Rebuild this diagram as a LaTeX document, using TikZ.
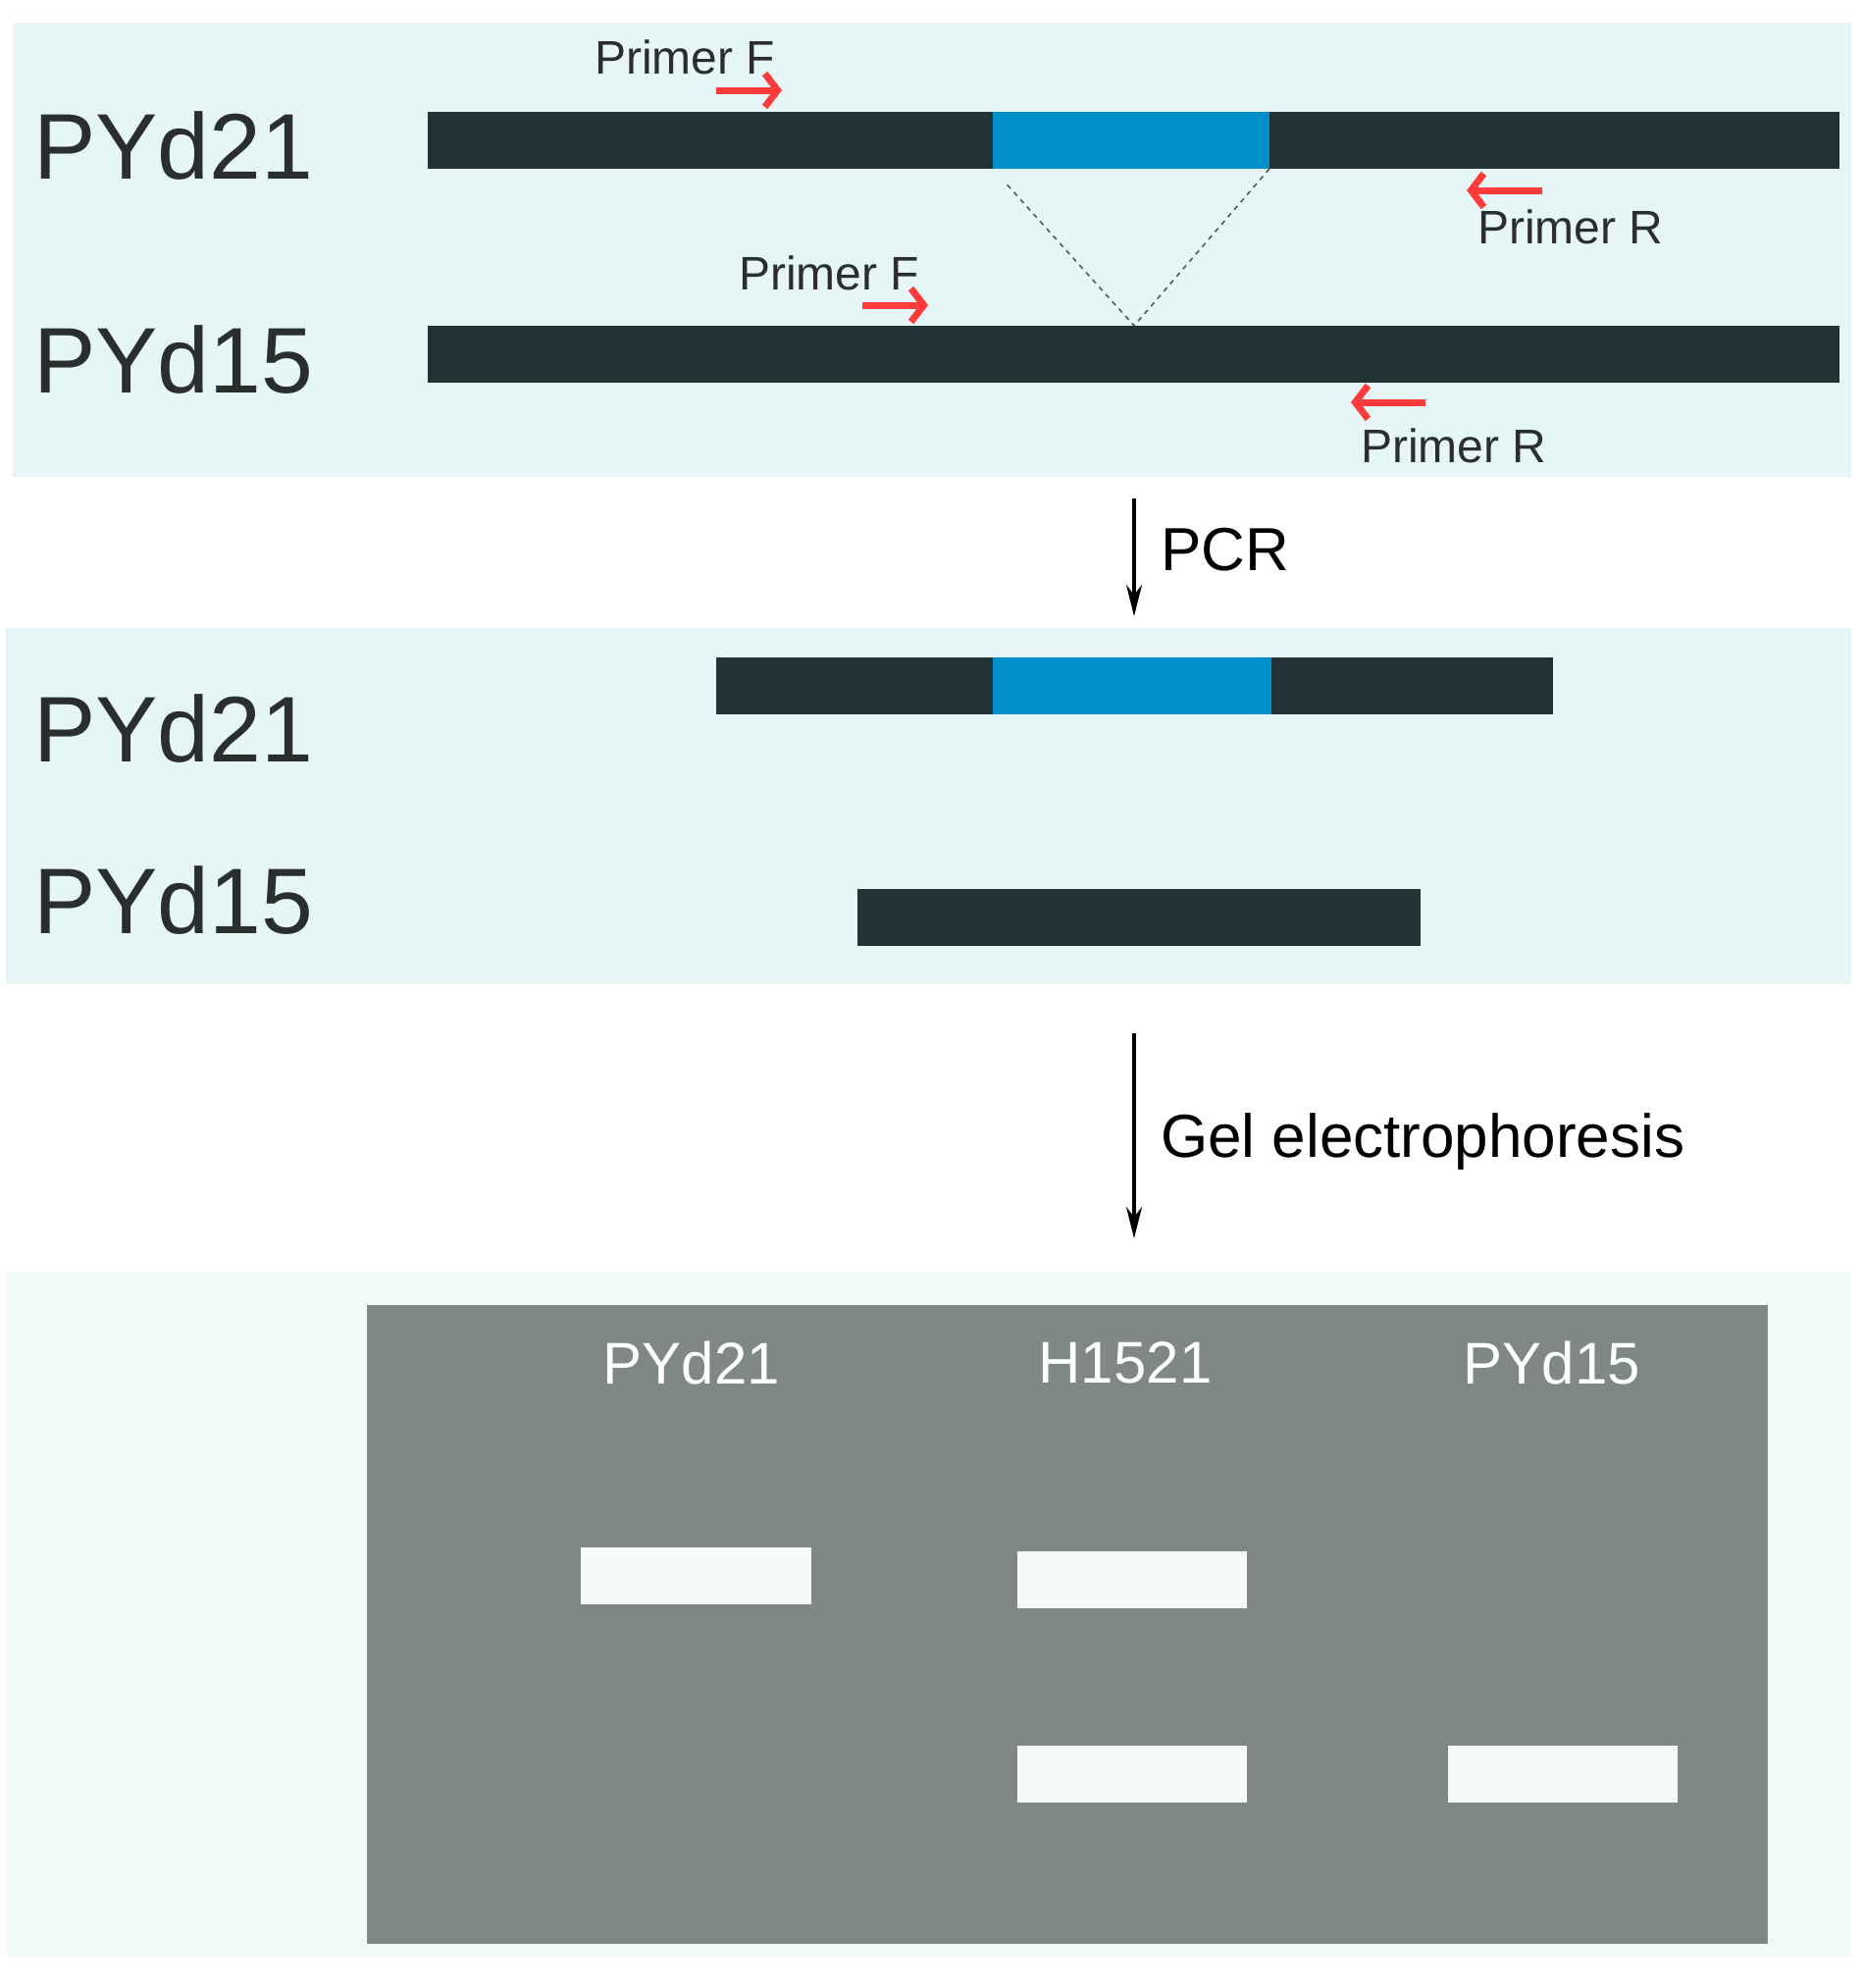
\documentclass[tikz,border=0pt]{standalone}
\usepackage{fontspec}
\setmainfont{Liberation Sans}
\usetikzlibrary{arrows.meta}
\definecolor{panelc}{HTML}{E6F6F6}
\definecolor{panelg}{HTML}{F4FBFB}
\definecolor{barc}{HTML}{223336}
\definecolor{bluec}{HTML}{008FC8}
\definecolor{redc}{HTML}{FF3B3B}
\definecolor{txtc}{HTML}{2A2E2F}
\definecolor{gelc}{HTML}{808887}
\definecolor{bandc}{HTML}{F5FAFA}
\tikzset{
  box/.style={inner sep=0pt, outer sep=0pt, draw=none, anchor=north west},
  bigl/.style={inner sep=0pt, anchor=west, text=txtc, font=\fontsize{95}{95}\selectfont},
  primerl/.style={inner sep=0pt, anchor=west, text=txtc, font=\fontsize{48}{48}\selectfont},
  stepl/.style={inner sep=0pt, anchor=west, text=black, font=\fontsize{62}{62}\selectfont},
  lanel/.style={inner sep=0pt, text=white, font=\fontsize{60}{60}\selectfont},
  redarrow/.style={draw=redc, line width=7pt, -{Straight Barb[length=13pt,width=34pt]}},
  flowarrow/.style={draw=black, line width=4pt, -{Stealth[length=32pt,width=16pt]}},
  dashline/.style={draw=txtc!80, line width=1.6pt, dash pattern=on 5pt off 5pt},
}
\begin{document}
\begin{tikzpicture}[x=1pt,y=-1pt]
\useasboundingbox (0,0) rectangle (1900,2026);
\fill[white] (0,0) rectangle (1900,2026);
% panels
\fill[panelc] (13,23) rectangle (1887,486);
\fill[panelc] (6,640) rectangle (1887,1003);
\fill[panelg] (6,1296) rectangle (1887,1994);

% ---- panel 1
\node[bigl] (l21a) at (34,149) {PYd21};
\node[bigl] (l15a) at (34,367) {PYd15};
\node[box, fill=barc, minimum width=1439pt, minimum height=58pt] (d21) at (436,114) {};
\node[box, fill=bluec, minimum width=282pt, minimum height=58pt] (blue1) at (1012,114) {};
\node[box, fill=barc, minimum width=1439pt, minimum height=58pt] (d15) at (436,332) {};
\coordinate (apex) at (1156,332);
\draw[dashline, shorten <=22pt] (blue1.south west) -- (apex);
\draw[dashline] (blue1.south east) -- (apex);

\node[primerl] (pf1) at (606,58) {Primer F};
\coordinate (pf1a) at (730,92); \coordinate (pf1b) at (797,92);
\draw[redarrow] (pf1a) -- (pf1b);
\coordinate (pr1a) at (1572,194); \coordinate (pr1b) at (1495,194);
\draw[redarrow] (pr1a) -- (pr1b);
\node[primerl] (pr1) at (1506,231) {Primer R};

\node[primerl] (pf2) at (753,278) {Primer F};
\coordinate (pf2a) at (879,311); \coordinate (pf2b) at (946,311);
\draw[redarrow] (pf2a) -- (pf2b);
\coordinate (pr2a) at (1453,410); \coordinate (pr2b) at (1377,410);
\draw[redarrow] (pr2a) -- (pr2b);
\node[primerl] (pr2) at (1387,454) {Primer R};

% ---- PCR arrow
\coordinate (pcrA) at (1156,508); \coordinate (pcrB) at (1156,628);
\draw[flowarrow] (pcrA) -- (pcrB);
\node[stepl] (pcr) at (1183,560) {PCR};

% ---- panel 2
\node[bigl] (l21b) at (34,743) {PYd21};
\node[bigl] (l15b) at (34,918) {PYd15};
\node[box, fill=barc, minimum width=853pt, minimum height=58pt] (p21) at (730,670) {};
\node[box, fill=bluec, minimum width=284pt, minimum height=58pt] (blue2) at (1012,670) {};
\node[box, fill=barc, minimum width=574pt, minimum height=58pt] (p15) at (874,906) {};

% ---- gel arrow
\coordinate (gelA) at (1156,1053); \coordinate (gelB) at (1156,1262);
\draw[flowarrow] (gelA) -- (gelB);
\node[stepl] (gel) at (1183,1163) {Gel electrophoresis};

% ---- panel 3 gel
\node[box, fill=gelc, minimum width=1428pt, minimum height=651pt] (gelbox) at (374,1330) {};
\node[lanel] (g1) at (705,1389) {PYd21};
\node[lanel] (g2) at (1147,1389) {H1521};
\node[lanel] (g3) at (1582,1389) {PYd15};
\node[box, fill=bandc, minimum width=235pt, minimum height=58pt] (b1) at (592,1577) {};
\node[box, fill=bandc, minimum width=234pt, minimum height=58pt] (b2) at (1037,1581) {};
\node[box, fill=bandc, minimum width=234pt, minimum height=58pt] (b3) at (1037,1779) {};
\node[box, fill=bandc, minimum width=234pt, minimum height=58pt] (b4) at (1476,1779) {};
\end{tikzpicture}
\end{document}
